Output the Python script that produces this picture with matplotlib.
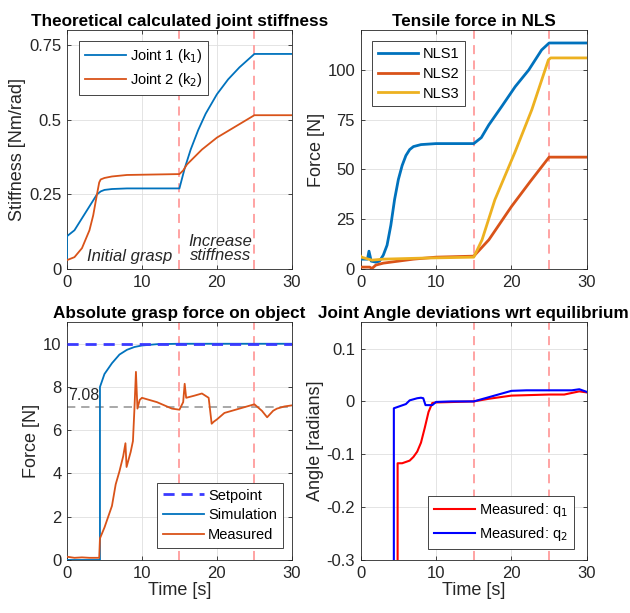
import matplotlib
matplotlib.use("Agg")
from matplotlib import pyplot as plt

plt.rcParams['font.family'] = ['Liberation Sans', 'DejaVu Sans']

# top-left: theoretical joint stiffness
t_k = [0, 0, 1, 2, 3, 4, 4.5, 5, 6, 8, 15, 15.7, 16.5, 17.5, 18.5, 20, 21.5, 23, 25, 30]
k1 = [0.03, 0.11, 0.13, 0.17, 0.21, 0.25, 0.26, 0.265, 0.268, 0.27, 0.27, 0.337, 0.40,
      0.465, 0.52, 0.585, 0.635, 0.675, 0.72, 0.72]
t_k2 = [0, 1, 2, 3, 3.5, 4, 4.3, 4.5, 5, 6, 8, 15, 15.5, 16, 17, 18, 20, 22, 25, 30]
k2 = [0.03, 0.04, 0.07, 0.13, 0.18, 0.25, 0.29, 0.30, 0.305, 0.31, 0.315, 0.318, 0.33,
      0.35, 0.375, 0.40, 0.44, 0.47, 0.515, 0.515]

# top-right: tensile force in NLS
t_n1 = [0, 0.9, 1.1, 1.4, 2, 2.5, 3, 3.5, 4, 4.5, 5, 5.5, 6, 6.5, 7, 8, 10, 15, 16, 17,
        18.7, 20.5, 22.3, 24, 25, 30]
nls1 = [5, 5, 9, 4, 3.5, 4, 7, 12, 22, 35, 45, 52, 57, 60, 61.5, 62.5, 63, 63, 66, 72.4,
        81.6, 91.6, 100, 110, 113.5, 113.5]
t_n2 = [0, 1.2, 1.5, 2, 3, 5, 7, 10, 15, 17, 20, 22.5, 25, 30]
nls2 = [1, 1, 0.3, 2, 3, 4, 5, 6, 6.5, 14.7, 31.4, 44, 56.2, 56.2]
t_n3 = [0, 0.1, 1.5, 3, 8, 15, 16.1, 17.8, 20.5, 22.7, 24.9, 25.2, 30]
nls3 = [6.5, 6, 4.5, 5, 5.5, 6, 14.7, 34.8, 59, 80, 105, 106, 106]

# bottom-left: absolute grasp force
setpoint = 10
level = 7.08
t_sim = [0, 4.4, 4.4, 5, 6, 7, 8, 9, 10, 12, 15, 30]
f_sim = [0, 0, 8.0, 8.6, 9.1, 9.5, 9.72, 9.85, 9.92, 9.98, 10, 10]
t_meas = [0, 1, 2, 3, 4.3, 4.4, 5, 5.5, 6, 6.5, 7, 7.5, 7.8, 7.95, 8.5, 8.8, 9.0, 9.2,
          9.4, 9.7, 10, 11, 12, 13, 14, 15, 15.5, 15.7, 15.9, 17, 18, 18.9, 19.3, 19.6,
          20, 21, 22, 23, 24, 25, 26, 26.7, 27.5, 28, 29, 30]
f_meas = [0.15, 0.1, 0.12, 0.1, 0.1, 1.0, 1.5, 2.0, 2.5, 3.5, 4.1, 4.8, 5.4, 4.3, 5.0,
          5.5, 7.0, 8.7, 7.0, 7.4, 7.5, 7.4, 7.3, 7.15, 7.0, 6.95, 7.3, 8.15, 7.5, 7.6,
          7.7, 7.5, 6.3, 6.4, 6.5, 6.8, 6.9, 7.0, 7.1, 7.2, 6.9, 6.6, 6.9, 7.0, 7.1, 7.15]

# bottom-right: joint angle deviations
t_q1 = [4.9, 4.9, 5.5, 6.5, 7, 7.5, 8, 8.5, 9, 9.5, 10, 15, 17, 20, 25, 27, 28, 29, 30]
q1 = [-0.35, -0.117, -0.117, -0.112, -0.105, -0.095, -0.078, -0.05, -0.02, -0.003, -0.002,
      0.0, 0.005, 0.011, 0.013, 0.013, 0.016, 0.019, 0.017]
t_q2 = [4.4, 4.4, 5, 6, 6.5, 7, 7.5, 8, 8.3, 8.6, 9.5, 10, 12, 15, 17, 20, 22, 25, 28,
        29, 30]
q2 = [-0.35, -0.013, -0.01, -0.005, 0.002, 0.004, 0.006, 0.007, 0.006, -0.007, -0.007,
      -0.001, 0.0, 0.0, 0.008, 0.02, 0.021, 0.021, 0.021, 0.023, 0.018]

phase_times = [15, 25]

c_blue = '#0072BD'
c_orange = '#D95319'
c_yellow = '#EDB120'
c_axis = '#262626'
c_phase = '#FF9C9C'


def style(ax, title, ylabel, xlabel=None):
    ax.set_xlim(0, 30)
    ax.set_xticks([0, 10, 20, 30])
    ax.grid(True, color='#DFDFDF', linewidth=0.6)
    ax.set_axisbelow(True)
    for s in ax.spines.values():
        s.set_color(c_axis)
        s.set_linewidth(0.6)
    ax.tick_params(direction='in', length=3, width=0.6, colors=c_axis, labelsize=12,
                   top=True, right=True, pad=4)
    ax.set_title(title, fontsize=12.3, fontweight='bold', pad=3)
    ax.set_ylabel(ylabel, fontsize=13, color=c_axis, labelpad=2)
    if xlabel:
        ax.set_xlabel(xlabel, fontsize=13, color=c_axis, labelpad=1)
    for tp in phase_times:
        ax.axvline(tp, color=c_phase, linestyle=(0, (5, 3.5)), linewidth=1.3, zorder=1)


def legend(ax, **kw):
    leg = ax.legend(fontsize=10.5, handlelength=2.8, fancybox=False, framealpha=1,
                    borderaxespad=0, labelspacing=0.4, handletextpad=0.3, **kw)
    leg.get_frame().set_edgecolor(c_axis)
    leg.get_frame().set_linewidth(0.6)


fig = plt.figure(figsize=(6.3, 6.13), dpi=100)
ax1 = fig.add_axes([0.1063, 0.561, 0.357, 0.390])
ax2 = fig.add_axes([0.5725, 0.561, 0.359, 0.390])
ax3 = fig.add_axes([0.1063, 0.0865, 0.357, 0.388])
ax4 = fig.add_axes([0.5725, 0.0865, 0.359, 0.388])

# stiffness
ax1.plot(t_k, k1, color=c_blue, linewidth=1.3, label='Joint 1 (k$_1$)', zorder=3)
ax1.plot(t_k2, k2, color=c_orange, linewidth=1.3, label='Joint 2 (k$_2$)', zorder=3)
style(ax1, 'Theoretical calculated joint stiffness', 'Stiffness [Nm/rad]')
ax1.set_ylim(0, 0.8)
ax1.set_yticks([0, 0.25, 0.5, 0.75])
ax1.set_yticklabels(['0', '0.25', '0.5', '0.75'])
ax1.text(8.4, 0.043, 'Initial grasp', style='italic', fontsize=12, ha='center',
         va='center', color=c_axis)
ax1.text(20.5, 0.091, 'Increase', style='italic', fontsize=12, ha='center',
         va='center', color=c_axis)
ax1.text(20.5, 0.046, 'stiffness', style='italic', fontsize=12, ha='center',
         va='center', color=c_axis)
legend(ax1, loc='upper left', bbox_to_anchor=(0.053, 0.954))

# tensile force
ax2.plot(t_n1, nls1, color=c_blue, linewidth=2.0, label='NLS1', zorder=3)
ax2.plot(t_n2, nls2, color=c_orange, linewidth=2.0, label='NLS2', zorder=3)
ax2.plot(t_n3, nls3, color=c_yellow, linewidth=2.0, label='NLS3', zorder=3)
style(ax2, 'Tensile force in NLS', 'Force [N]')
ax2.set_ylim(0, 120)
ax2.set_yticks([0, 25, 50, 75, 100])
legend(ax2, loc='upper left', bbox_to_anchor=(0.049, 0.954))

# grasp force
ax3.axhline(level, color='#9A9A9A', linestyle=(0, (5, 3.5)), linewidth=1.2, zorder=1)
ax3.text(0.1, 7.6, '7.08', fontsize=11.5, color=c_axis, ha='left', va='center')
ax3.plot([0, 30], [setpoint, setpoint], color='#3A3AFF', linestyle=(0, (4, 2.5)),
         linewidth=2.0, label='Setpoint', zorder=4)
ax3.plot(t_sim, f_sim, color=c_blue, linewidth=1.3, label='Simulation', zorder=3)
ax3.plot(t_meas, f_meas, color=c_orange, linewidth=1.3, label='Measured', zorder=3)
style(ax3, 'Absolute grasp force on object', 'Force [N]', 'Time [s]')
ax3.set_ylim(0, 11)
ax3.set_yticks([0, 2, 4, 6, 8, 10])
legend(ax3, loc='lower right', bbox_to_anchor=(0.96, 0.05))

# joint angles
ax4.plot(t_q1, q1, color='red', linewidth=1.5, label='Measured: q$_1$', zorder=3)
ax4.plot(t_q2, q2, color='blue', linewidth=1.5, label='Measured: q$_2$', zorder=3)
style(ax4, 'Joint Angle deviations wrt equilibrium', 'Angle [radians]', 'Time [s]')
ax4.set_ylim(-0.3, 0.15)
ax4.set_yticks([-0.3, -0.2, -0.1, 0, 0.1])
ax4.set_yticklabels(['-0.3', '-0.2', '-0.1', '0', '0.1'])
legend(ax4, loc='lower right', bbox_to_anchor=(0.944, 0.046))

fig.savefig('out.png', dpi=100)
